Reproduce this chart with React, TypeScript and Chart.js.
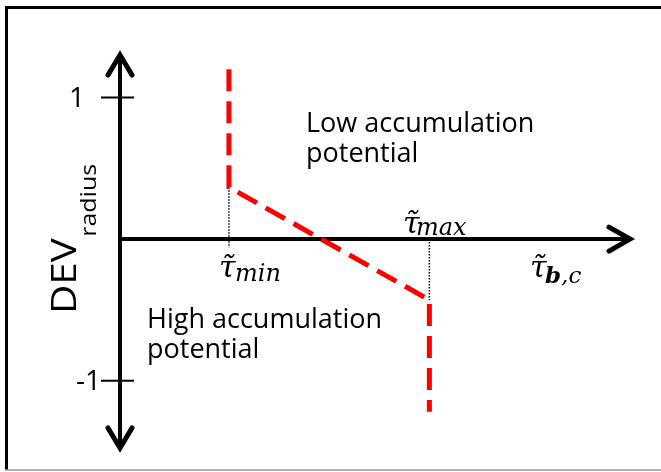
import React, { useEffect, useRef } from 'react';
import { Chart, registerables } from 'chart.js';

Chart.register(...registerables);

// ---- data ----
const tauMin = 1.0;
const tauMax = 2.84;
const xAxisEnd = 4.7;
const curveX = [tauMin, tauMin, tauMax, tauMax];
const curveDev = [1.2, 0.367, -0.43, -1.22];
const dotMinY = [0.367, -0.06];
const dotMaxY = [0, -0.43];
const yTickValues = [1, -1];
const yTickLabels = ['1', '-1'];
const lowLabel = ['Low accumulation', 'potential'];
const highLabel = ['High accumulation', 'potential'];
const yMin = -1.49;
const yMax = 1.315;

const W = 661;
const H = 472;

const TEXT_FONT = '"Open Sans", sans-serif';
const MATH_FONT = '"DejaVu Serif", serif';

const decorPlugin = {
  id: 'decor',
  beforeDraw(chart: any) {
    const ctx = chart.ctx;
    ctx.save();
    ctx.fillStyle = '#ffffff';
    ctx.fillRect(0, 0, W, H);
    // frame
    ctx.strokeStyle = '#000';
    ctx.lineWidth = 3;
    ctx.beginPath();
    ctx.moveTo(W, 7.5);
    ctx.lineTo(6.5, 7.5);
    ctx.lineTo(6.5, 470);
    ctx.stroke();
    ctx.strokeStyle = '#9a9a9a';
    ctx.lineWidth = 1.5;
    ctx.beginPath();
    ctx.moveTo(5, 470);
    ctx.lineTo(W, 470);
    ctx.stroke();
    ctx.restore();
  },
  beforeDatasetsDraw(chart: any) {
    const ctx = chart.ctx;
    const xs = chart.scales.x;
    const ys = chart.scales.y;
    const ax = xs.getPixelForValue(0);
    const ay = ys.getPixelForValue(0);
    const top = chart.chartArea.top;
    const bottom = chart.chartArea.bottom;
    const right = chart.chartArea.right;
    ctx.save();
    ctx.strokeStyle = '#000';
    ctx.lineWidth = 4;
    ctx.lineCap = 'butt';
    // y axis
    ctx.beginPath();
    ctx.moveTo(ax, top + 2);
    ctx.lineTo(ax, bottom - 2);
    ctx.stroke();
    // x axis
    ctx.beginPath();
    ctx.moveTo(ax - 2, ay);
    ctx.lineTo(right - 2, ay);
    ctx.stroke();
    // arrows
    ctx.lineCap = 'round';
    ctx.lineJoin = 'miter';
    ctx.lineWidth = 5;
    ctx.beginPath();
    ctx.moveTo(ax - 12, top + 22);
    ctx.lineTo(ax, top + 2);
    ctx.lineTo(ax + 12, top + 22);
    ctx.stroke();
    ctx.beginPath();
    ctx.moveTo(ax - 12, bottom - 22);
    ctx.lineTo(ax, bottom - 2);
    ctx.lineTo(ax + 12, bottom - 22);
    ctx.stroke();
    ctx.beginPath();
    ctx.moveTo(right - 23, ay - 12);
    ctx.lineTo(right - 2, ay);
    ctx.lineTo(right - 23, ay + 12);
    ctx.stroke();
    // ticks
    ctx.lineWidth = 2;
    ctx.lineCap = 'butt';
    ctx.fillStyle = '#000';
    ctx.font = `28px ${TEXT_FONT}`;
    ctx.textBaseline = 'middle';
    yTickValues.forEach((v, i) => {
      const py = ys.getPixelForValue(v);
      ctx.beginPath();
      ctx.moveTo(ax - 19, py);
      ctx.lineTo(ax + 14, py);
      ctx.stroke();
      ctx.textAlign = 'right';
      const rx = v > 0 ? ax - 35 : ax - 19;
      ctx.fillText(yTickLabels[i], rx, py + 1);
    });
    ctx.restore();
  },
  afterDraw(chart: any) {
    const ctx = chart.ctx;
    ctx.save();
    ctx.fillStyle = '#000';
    ctx.textBaseline = 'alphabetic';
    ctx.textAlign = 'left';
    // region labels
    ctx.font = `27px ${TEXT_FONT}`;
    ctx.fillText(lowLabel[0], 306, 132);
    ctx.fillText(lowLabel[1], 306, 162);
    ctx.fillText(highLabel[0], 147, 328);
    ctx.fillText(highLabel[1], 147, 358);

    // y title (stretched along its length like the reference)
    ctx.save();
    ctx.translate(76, 314);
    ctx.rotate(-Math.PI / 2);
    ctx.font = `34px ${TEXT_FONT}`;
    const dw = ctx.measureText('DEV').width;
    const stretch = 76 / dw;
    ctx.scale(stretch, 1);
    ctx.fillText('DEV', 0, 0);
    ctx.font = `21px ${TEXT_FONT}`;
    ctx.fillText('radius', dw + 1, 20);
    ctx.restore();

    // math labels
    const tau = '\u03C4\u0303';
    const drawTau = (x: number, y: number, sub: string, subX: number, subY: number, bold?: string) => {
      ctx.font = `italic 30px ${MATH_FONT}`;
      ctx.fillText(tau, x, y);
      if (bold) {
        ctx.font = `italic bold 23px ${MATH_FONT}`;
        ctx.fillText(bold, subX, subY);
        const bw = ctx.measureText(bold).width;
        ctx.font = `italic 23px ${MATH_FONT}`;
        ctx.fillText(sub, subX + bw, subY);
      } else {
        ctx.font = `italic 24px ${MATH_FONT}`;
        ctx.fillText(sub, subX, subY);
      }
    };
    drawTau(219, 277, 'min', 235, 281);
    drawTau(403, 233, 'max', 416, 235);
    drawTau(530, 277, ',c', 545, 283, 'b');
    ctx.restore();
  },
};

export default function App() {
  const canvasRef = useRef<HTMLCanvasElement | null>(null);

  useEffect(() => {
    if (!canvasRef.current) return;
    const chart = new Chart(canvasRef.current, {
      type: 'scatter',
      data: {
        datasets: [
          {
            data: curveX.map((x, i) => ({ x, y: curveDev[i] })),
            showLine: true,
            borderColor: '#ff0000',
            borderWidth: 5,
            borderDash: [22, 10],
            borderCapStyle: 'butt',
            borderJoinStyle: 'miter',
            pointRadius: 0,
            fill: false,
          },
          {
            data: dotMinY.map((y) => ({ x: tauMin, y })),
            showLine: true,
            borderColor: '#000',
            borderWidth: 1.5,
            borderDash: [1.5, 1.5],
            pointRadius: 0,
          },
          {
            data: dotMaxY.map((y) => ({ x: tauMax, y })),
            showLine: true,
            borderColor: '#000',
            borderWidth: 1.5,
            borderDash: [1.5, 1.5],
            pointRadius: 0,
          },
        ],
      },
      options: {
        responsive: false,
        animation: false,
        layout: { padding: { left: 120, right: 29, top: 53, bottom: 22 } },
        scales: {
          x: { type: 'linear', min: 0, max: xAxisEnd, display: false },
          y: { type: 'linear', min: yMin, max: yMax, display: false },
        },
        plugins: {
          legend: { display: false },
          tooltip: { enabled: false },
        },
      },
      plugins: [decorPlugin],
    } as any);
    return () => chart.destroy();
  }, []);

  return (
    <div style={{ position: 'fixed', left: 0, top: 0, width: W, height: H, background: '#fff' }}>
      <canvas ref={canvasRef} width={W} height={H} style={{ width: W, height: H, display: 'block' }} />
    </div>
  );
}
